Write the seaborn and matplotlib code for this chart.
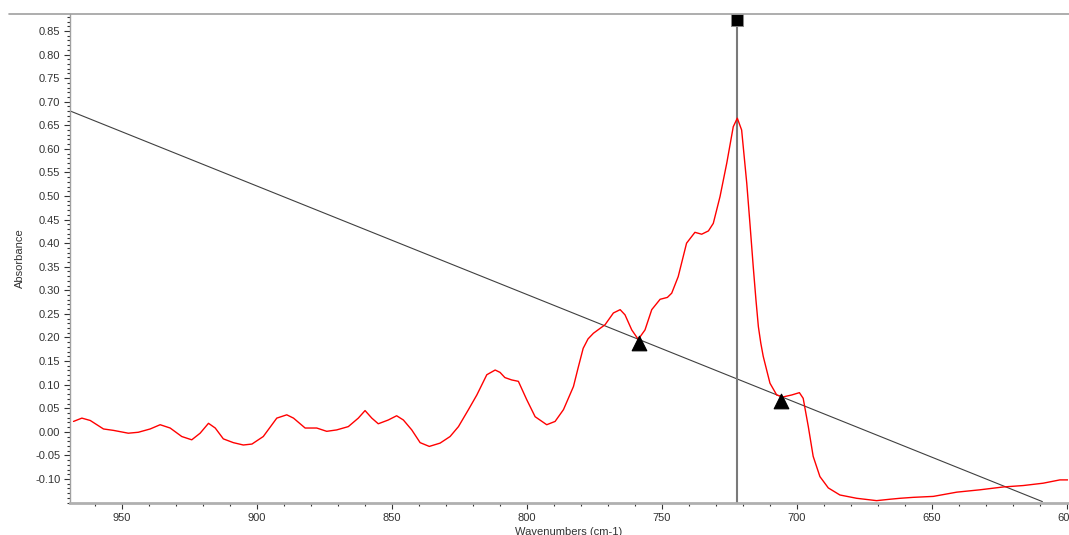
import numpy as np
import pandas as pd
import matplotlib
matplotlib.use('Agg')
import matplotlib.pyplot as plt
from matplotlib.ticker import MultipleLocator, FormatStrFormatter
from matplotlib.lines import Line2D
import seaborn as sns

# spectrum (wavenumber cm-1, absorbance)
wavenumber = [967.9, 964.8, 961.7, 956.8, 953.1, 947.6, 943.9, 939.5, 935.8, 932.1,
              927.8, 924.1, 921.0, 917.9, 915.4, 912.4, 908.7, 905.0, 901.8, 897.6,
              892.6, 888.9, 886.4, 882.1, 877.8, 874.1, 870.4, 866.1, 862.4, 859.9,
              857.4, 855.0, 851.3, 848.2, 845.7, 842.6, 839.5, 836.1, 832.1, 828.4,
              825.3, 821.6, 818.5, 814.8, 811.7, 809.9, 808.1, 805.6, 803.1, 800.0,
              796.9, 792.6, 789.5, 786.4, 782.7, 781.0, 779.1, 777.3, 775.3, 771.0,
              767.9, 765.4, 763.6, 761.1, 758.7, 756.2, 753.7, 750.6, 747.9, 746.3,
              743.9, 740.8, 737.7, 735.2, 732.7, 730.9, 728.4, 725.9, 723.5, 722.0,
              720.4, 718.5, 717.3, 716.1, 715.1, 714.2, 713.3, 712.4, 711.0, 709.9,
              707.4, 705.0, 701.9, 699.0, 697.6, 695.7, 693.9, 691.4, 688.3, 684.0,
              677.8, 670.4, 665.4, 661.7, 656.8, 649.4, 640.7, 632.1, 623.5, 616.1,
              608.7, 602.5, 599.5]
absorbance = [0.022, 0.029, 0.024, 0.006, 0.003, -0.003, -0.001, 0.006, 0.015, 0.008,
              -0.010, -0.017, -0.003, 0.018, 0.008, -0.015, -0.023, -0.028, -0.026, -0.010,
              0.029, 0.036, 0.029, 0.008, 0.008, 0.001, 0.004, 0.011, 0.029, 0.045,
              0.029, 0.017, 0.025, 0.034, 0.025, 0.004, -0.023, -0.031, -0.024, -0.010,
              0.011, 0.047, 0.078, 0.121, 0.131, 0.126, 0.115, 0.110, 0.107, 0.068,
              0.032, 0.015, 0.022, 0.047, 0.096, 0.135, 0.177, 0.197, 0.209, 0.227,
              0.252, 0.259, 0.248, 0.216, 0.196, 0.216, 0.259, 0.281, 0.285, 0.294,
              0.329, 0.400, 0.423, 0.419, 0.426, 0.442, 0.499, 0.570, 0.647, 0.665,
              0.640, 0.527, 0.440, 0.350, 0.280, 0.223, 0.188, 0.160, 0.128, 0.103,
              0.078, 0.074, 0.078, 0.083, 0.071, 0.011, -0.052, -0.095, -0.119, -0.134,
              -0.141, -0.146, -0.143, -0.141, -0.139, -0.137, -0.128, -0.123, -0.117, -0.114,
              -0.109, -0.102, -0.102]

# baseline end points and markers
base_x = [969.0, 609.0]
base_y = [0.680, -0.148]
tri_x = [758.4, 705.8]
tri_y = [0.189, 0.066]
peak_x = 722.0
peak_marker_y = 0.873

df = pd.DataFrame({'wn': wavenumber, 'abs': absorbance})

sns.set_style('white')
plt.rcParams['font.family'] = ['Liberation Sans', 'DejaVu Sans']

fig = plt.figure(figsize=(10.69, 5.35), dpi=100)
ax = fig.add_axes([70/1069, 32/535, 998/1069, 489/535])

ax.plot(base_x, base_y, color='#404040', lw=0.8, zorder=2)
ax.axvline(peak_x, color='#7a7a7a', lw=1.5, zorder=2)
sns.lineplot(data=df, x='wn', y='abs', sort=False, color='#ff0000', lw=1.0,
             ax=ax, zorder=3)
sns.scatterplot(x=tri_x, y=tri_y, marker='^', s=110, color='black',
                edgecolor='black', ax=ax, zorder=4)
sns.scatterplot(x=[peak_x], y=[peak_marker_y], marker='s', s=85, color='black',
                edgecolor='#888888', ax=ax, zorder=5, clip_on=False)

ax.set_xlim(969.2, 599.5)
ax.set_ylim(-0.151, 0.886)
ax.xaxis.set_major_locator(MultipleLocator(50))
ax.xaxis.set_minor_locator(MultipleLocator(10))
ax.yaxis.set_major_locator(MultipleLocator(0.05))
ax.yaxis.set_minor_locator(MultipleLocator(0.01))
ax.yaxis.set_major_formatter(FormatStrFormatter('%.2f'))
ax.set_yticks(np.arange(-0.10, 0.86, 0.05))

ax.tick_params(axis='both', which='major', direction='out', length=4, width=0.8,
               color='#333333', labelsize=8, labelcolor='#333333', pad=3)
ax.tick_params(axis='both', which='minor', direction='out', length=2, width=0.8,
               color='#333333')
ax.tick_params(bottom=True, left=True, which='both')

for s in ['top', 'right']:
    ax.spines[s].set_visible(False)
ax.spines['left'].set_color('#a0a0a0')
ax.spines['bottom'].set_color('#b0b0b0')
ax.spines['bottom'].set_linewidth(2)
ax.spines['left'].set_linewidth(1)

ax.set_xlabel('Wavenumbers (cm-1)', fontsize=8, color='#333333', labelpad=3)
ax.set_ylabel('Absorbance', fontsize=8, color='#333333', labelpad=7)

# grey rule along the top of the window
fig.add_artist(Line2D([9/1069, 1.0], [521/535, 521/535], color='#a0a0a0', lw=1.2,
                      transform=fig.transFigure))

fig.savefig('out.png', dpi=100)
